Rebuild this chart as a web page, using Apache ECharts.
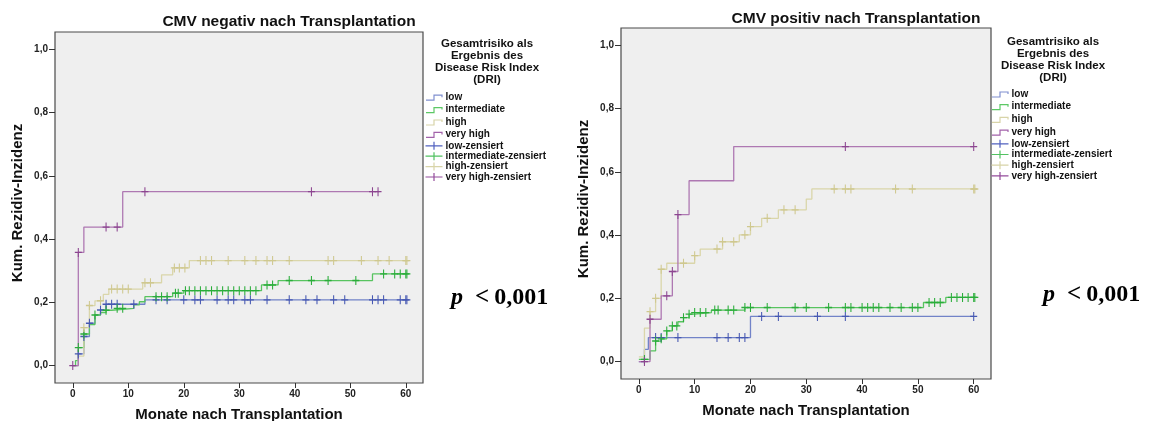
<!DOCTYPE html>
<html>
<head>
<meta charset="utf-8">
<script src="https://cdn.jsdelivr.net/npm/echarts@6/dist/echarts.min.js"></script>
<style>
html,body{margin:0;padding:0;background:#fff;}
#chart{width:1150px;height:421px;}
</style>
</head>
<body>
<div id="chart"></div>
<script>
// ---------- DATA ----------
var groupNames = ['low', 'intermediate', 'high', 'very high'];
var xTicks = [0, 10, 20, 30, 40, 50, 60];
var yTicks = [0, 0.2, 0.4, 0.6, 0.8, 1.0];

// CMV negativ nach Transplantation (step times, step values, end time, censored times)
var negLowT = [0, 1, 2, 3, 4, 5, 6, 13];
var negLowV = [0, 0.037, 0.092, 0.134, 0.16, 0.176, 0.194, 0.208];
var negLowEnd = 60.2;
var negLowCens = [1, 2, 3, 5, 6, 7, 8, 11, 15, 17, 20, 22, 23, 26, 28, 29, 31, 32, 35, 39, 42, 44, 47, 49, 54, 55, 56, 59, 60, 60.2];

var negIntT = [0, 0.5, 1, 2, 3, 4, 5, 6, 7, 11, 12, 13, 18, 20, 34, 37, 54];
var negIntV = [0, 0.016, 0.057, 0.1, 0.13, 0.16, 0.168, 0.175, 0.181, 0.192, 0.202, 0.218, 0.229, 0.237, 0.255, 0.269, 0.29];
var negIntEnd = 60.2;
var negIntCens = [1, 2, 4, 6, 8, 9, 15, 16, 17, 18.5, 19, 20.3, 21, 22, 23, 24, 25, 26, 27, 28, 29, 30, 31, 32, 33, 35, 36, 39, 43, 46, 51, 56, 58, 59, 60, 60.2];

var negHighT = [0, 1, 2, 3, 4, 5.5, 6.5, 12.6, 16, 18, 21];
var negHighV = [0, 0.03, 0.12, 0.19, 0.205, 0.225, 0.242, 0.262, 0.287, 0.309, 0.332];
var negHighEnd = 60.2;
var negHighCens = [2, 3, 5, 7, 8, 9, 10, 13, 14, 18.3, 19.2, 20.2, 23, 24, 25, 28, 31, 33, 35, 36, 39, 46, 47, 52, 55, 57, 60, 60.2];

var negVhT = [0, 1, 2, 9];
var negVhV = [0, 0.358, 0.438, 0.55];
var negVhEnd = 55.2;
var negVhCens = [0, 1, 6, 8, 13, 43, 54, 55];

// CMV positiv nach Transplantation
var posLowT = [0, 1, 1.7, 20];
var posLowV = [0, 0.039, 0.076, 0.143];
var posLowEnd = 60;
var posLowCens = [3, 4, 7, 14, 16, 18, 19, 22, 25, 32, 37, 60];

var posIntT = [0, 2, 3, 4, 5, 6, 7, 8, 9, 10, 13, 19, 51, 55];
var posIntV = [0.007, 0.034, 0.065, 0.072, 0.097, 0.113, 0.126, 0.139, 0.15, 0.155, 0.163, 0.171, 0.187, 0.203];
var posIntEnd = 60.2;
var posIntCens = [1, 3, 4, 5, 6, 6.8, 8, 9, 10, 11, 12, 13.6, 14.2, 16, 17, 19, 20, 23, 28, 30, 34, 37, 38, 40, 41, 42, 43, 45, 47, 49, 50, 52, 53, 54, 56, 57, 58, 59, 60, 60.2];

var posHighT = [0, 1, 2, 3, 4, 5, 10, 11, 15, 18, 20, 22, 25, 30, 31];
var posHighV = [0.015, 0.106, 0.158, 0.2, 0.292, 0.311, 0.335, 0.356, 0.379, 0.401, 0.427, 0.453, 0.48, 0.514, 0.546];
var posHighEnd = 60.2;
var posHighCens = [2, 3, 4, 8, 10, 14, 15, 17, 19, 20, 23, 26, 28, 35, 37, 38, 46, 49, 60, 60.2];

var posVhT = [0, 2, 4, 6, 7, 9, 17];
var posVhV = [0, 0.134, 0.208, 0.285, 0.465, 0.572, 0.68];
var posVhEnd = 60;
var posVhCens = [1, 2, 5, 6, 7, 37, 60];

// ---------- STYLE ----------
var lineColors = ['#7283c8', '#58c460', '#dad6aa', '#ae78b2'];
var markColors = ['#4658b2', '#2aad3a', '#cfc88f', '#8c4590'];
var legLineColors = ['#8090d0', '#5cc865', '#d8d4a8', '#a262aa'];
var legMarkColors = ['#5262c0', '#52c262', '#d8d4a8', '#944c9c'];
var FONT = '"Liberation Sans", Arial, Helvetica, sans-serif';
var SERIF = '"Liberation Serif", "Times New Roman", serif';

function valueAt(T, V, t) {
  var v = V[0];
  for (var i = 0; i < T.length; i++) { if (T[i] <= t + 1e-9) v = V[i]; }
  return v;
}
function stepData(T, V, end) {
  var d = T.map(function (t, i) { return [t, V[i]]; });
  d.push([end, V[V.length - 1]]);
  return d;
}
function censData(T, V, C) {
  return C.map(function (t) { return [t, valueAt(T, V, t)]; });
}

var panels = [
  { T: [negLowT, negIntT, negHighT, negVhT], V: [negLowV, negIntV, negHighV, negVhV],
    E: [negLowEnd, negIntEnd, negHighEnd, negVhEnd], C: [negLowCens, negIntCens, negHighCens, negVhCens] },
  { T: [posLowT, posIntT, posHighT, posVhT], V: [posLowV, posIntV, posHighV, posVhV],
    E: [posLowEnd, posIntEnd, posHighEnd, posVhEnd], C: [posLowCens, posIntCens, posHighCens, posVhCens] }
];

var series = [];
panels.forEach(function (p, gi) {
  for (var k = 0; k < 4; k++) {
    series.push({
      name: groupNames[k], type: 'line', xAxisIndex: gi, yAxisIndex: gi,
      step: 'end', symbol: 'none', showSymbol: false, silent: true,
      lineStyle: { color: lineColors[k], width: 1.3 },
      itemStyle: { color: lineColors[k] },
      data: stepData(p.T[k], p.V[k], p.E[k]), z: 2
    });
  }
  for (var k2 = 0; k2 < 4; k2++) {
    series.push({
      name: groupNames[k2] + '-zensiert', type: 'scatter', xAxisIndex: gi, yAxisIndex: gi,
      symbol: 'path://M0,5L10,5M5,0L5,10', symbolSize: [7, 9], silent: true,
      itemStyle: { color: 'none', borderColor: markColors[k2], borderWidth: 1.2, opacity: 1 },
      data: censData(p.T[k2], p.V[k2], p.C[k2]), z: 3
    });
  }
});

var stepIcon = 'path://M0,0M0,10M0,8L8,8L8,3L16,3L16,5';
var crossIcon = 'path://M0,5L17,5M8.5,1L8.5,9';
function legendData() {
  var d = [];
  groupNames.forEach(function (n, k) {
    d.push({ name: n, icon: stepIcon, itemStyle: { color: 'none', borderColor: legLineColors[k], borderWidth: 1.2 } });
  });
  groupNames.forEach(function (n, k) {
    d.push({ name: n + '-zensiert', icon: crossIcon, itemStyle: { color: 'none', borderColor: legMarkColors[k], borderWidth: 1.2 } });
  });
  return d;
}
function legendAt(left, top, gap) {
  return {
    orient: 'vertical', left: left, top: top, padding: 0,
    itemWidth: 17, itemHeight: 10, itemGap: gap,
    textStyle: { fontFamily: FONT, fontSize: 10, fontWeight: 'bold', color: '#111', lineHeight: 10, padding: [0, 0, 0, -2] },
    data: legendData(), selectedMode: false
  };
}
function xAx(gi) {
  return {
    type: 'value', gridIndex: gi, min: -3.2, max: 63.1,
    name: 'Monate nach Transplantation', nameLocation: 'middle', nameGap: 24,
    nameTextStyle: { fontFamily: FONT, fontSize: 15, fontWeight: 'bold', color: '#111' },
    axisLine: { show: false, onZero: false },
    axisTick: { show: true, customValues: xTicks, length: 5, lineStyle: { color: '#333', width: 1 } },
    axisLabel: { customValues: xTicks, margin: 6, fontFamily: FONT, fontSize: 10, fontWeight: 'bold', color: '#222' },
    splitLine: { show: false }
  };
}
function yAx(gi) {
  return {
    type: 'value', gridIndex: gi, min: -0.055, max: 1.055,
    name: 'Kum. Rezidiv-Inzidenz', nameLocation: 'middle', nameGap: 30,
    nameTextStyle: { fontFamily: FONT, fontSize: 15, fontWeight: 'bold', color: '#111', padding: [0, 0, 0, 9] },
    axisLine: { show: false, onZero: false },
    axisTick: { show: true, customValues: yTicks, length: 6, lineStyle: { color: '#333', width: 1 } },
    axisLabel: { customValues: yTicks, margin: 7, fontFamily: FONT, fontSize: 10, fontWeight: 'bold', color: '#222',
      formatter: function (v) { return v.toFixed(1).replace('.', ','); } },
    splitLine: { show: false }
  };
}
var legendTitle = 'Gesamtrisiko als\nErgebnis des\nDisease Risk Index\n(DRI)';
var pRich = {
  i: { fontFamily: SERIF, fontStyle: 'italic', fontWeight: 'bold', fontSize: 24, color: '#000', padding: [0, 12, 0, 0] },
  s: { fontFamily: SERIF, fontWeight: 'bold', fontSize: 25, color: '#000', padding: [0, 5, 0, 0] },
  b: { fontFamily: SERIF, fontWeight: 'bold', fontSize: 24, color: '#000' }
};

var option = {
  animation: false,
  backgroundColor: '#ffffff',
  title: [
    { text: 'CMV negativ nach Transplantation', left: 289, top: 14, padding: 0, textAlign: 'center',
      textStyle: { fontFamily: FONT, fontSize: 15.5, fontWeight: 'bold', color: '#111' } },
    { text: 'CMV positiv nach Transplantation', left: 856, top: 11, padding: 0, textAlign: 'center',
      textStyle: { fontFamily: FONT, fontSize: 15.5, fontWeight: 'bold', color: '#111' } },
    { text: legendTitle, left: 487, top: 38, padding: 0, textAlign: 'center',
      textStyle: { fontFamily: FONT, fontSize: 11.5, fontWeight: 'bold', color: '#111', lineHeight: 12 } },
    { text: legendTitle, left: 1053, top: 35.5, padding: 0, textAlign: 'center',
      textStyle: { fontFamily: FONT, fontSize: 11.5, fontWeight: 'bold', color: '#111', lineHeight: 12 } },
    { text: '{i|p}{s|<}{b|0,001}', left: 451, top: 285, padding: 0, textStyle: { rich: pRich } },
    { text: '{i|p}{s|<}{b|0,001}', left: 1043, top: 282, padding: 0, textStyle: { rich: pRich } }
  ],
  grid: [
    { left: 55, top: 32, width: 368, height: 351, show: true, containLabel: false, outerBoundsMode: 'none',
      backgroundColor: '#efefef', borderColor: '#4a4a4a', borderWidth: 1.2 },
    { left: 621, top: 28, width: 370, height: 351, show: true, containLabel: false, outerBoundsMode: 'none',
      backgroundColor: '#efefef', borderColor: '#4a4a4a', borderWidth: 1.2 }
  ],
  xAxis: [xAx(0), xAx(1)],
  yAxis: [yAx(0), yAx(1)],
  legend: [legendAt(423, 89.7, -2.6), legendAt(989, 86.5, -2.3)],
  series: series
};

var chart = echarts.init(document.getElementById('chart'), null, { renderer: 'canvas' });
chart.setOption(option);
</script>
</body>
</html>
